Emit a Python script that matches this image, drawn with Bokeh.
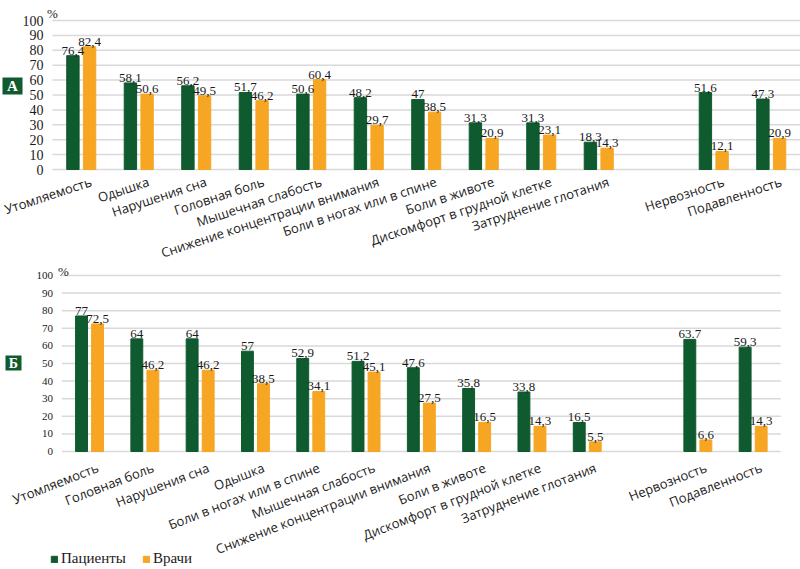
from bokeh.plotting import figure
from bokeh.models import Range1d, Legend, LegendItem, ColumnDataSource
from bokeh.layouts import column
from bokeh.core.properties import value
from bokeh.embed import file_html
from bokeh.resources import INLINE

GREEN = "#0f5a2e"
ORANGE = "#f6a623"
GRID = "#d9d9d9"
INK = "#1a1a1a"
SERIF = "Liberation Serif"
SANS = "Open Sans"

# ---- Panel A data ----
cats_a = ["Утомляемость", "Одышка", "Нарушения сна", "Головная боль", "Мышечная слабость",
          "Снижение концентрации внимания", "Боли в ногах или в спине", "Боли в животе",
          "Дискомфорт в грудной клетке", "Затруднение глотания", "Нервозность", "Подавленность"]
pat_a = [76.4, 58.1, 56.2, 51.7, 50.6, 48.2, 47, 31.3, 31.3, 18.3, 51.6, 47.3]
doc_a = [82.4, 50.6, 49.5, 46.2, 60.4, 29.7, 38.5, 20.9, 23.1, 14.3, 12.1, 20.9]
pat_a_lbl = ["76,4", "58,1", "56,2", "51,7", "50,6", "48,2", "47", "31,3", "31,3", "18,3", "51,6", "47,3"]
doc_a_lbl = ["82,4", "50,6", "49,5", "46,2", "60,4", "29,7", "38,5", "20,9", "23,1", "14,3", "12,1", "20,9"]

# ---- Panel B data ----
cats_b = ["Утомляемость", "Головная боль", "Нарушения сна", "Одышка", "Боли в ногах или в спине",
          "Мышечная слабость", "Снижение концентрации внимания", "Боли в животе",
          "Дискомфорт в грудной клетке", "Затруднение глотания", "Нервозность", "Подавленность"]
pat_b = [77, 64, 64, 57, 52.9, 51.2, 47.6, 35.8, 33.8, 16.5, 63.7, 59.3]
doc_b = [72.5, 46.2, 46.2, 38.5, 34.1, 45.1, 27.5, 16.5, 14.3, 5.5, 6.6, 14.3]
pat_b_lbl = ["77", "64", "64", "57", "52,9", "51,2", "47,6", "35,8", "33,8", "16,5", "63.7", "59,3"]
doc_b_lbl = ["72,5", "46,2", "46,2", "38,5", "34,1", "45,1", "27,5", "16,5", "14,3", "5,5", "6,6", "14,3"]

y_ticks = [0, 10, 20, 30, 40, 50, 60, 70, 80, 90, 100]
y_tick_labels = ["0", "10", "20", "30", "40", "50", "60", "70", "80", "90", "100"]
series_names = ["Пациенты", "Врачи"]
GAP_AFTER = 10  # empty slot between the two groups of categories

W = 800


def panel(cats, pat, doc, pat_lbl, doc_lbl, letter, height, left_px, slot_px, top_px, zero_px,
          tick_fs, box, pct, lab, legend=None):
    ppu = (zero_px - top_px) / 100.0
    n_slots = len(cats) + 1
    pos = [i + 0.5 + (1 if i >= GAP_AFTER else 0) for i in range(len(cats))]
    off, bw = 0.145, 0.215
    lab_dx, lab_dy, lab_angle = lab
    src = ColumnDataSource(dict(
        cat=cats, pat=pat, doc=doc, pat_lbl=pat_lbl, doc_lbl=doc_lbl,
        xg=[x - off for x in pos], xo=[x + off for x in pos],
        xl=[x + lab_dx / slot_px for x in pos]))
    p = figure(width=W, height=height, output_backend="svg", toolbar_location=None,
               x_range=Range1d(-left_px / slot_px, (W - left_px) / slot_px),
               y_range=Range1d(-(height - zero_px) / ppu, 100 + top_px / ppu),
               x_axis_location=None, y_axis_location=None,
               min_border_left=0, min_border_right=0, min_border_top=0, min_border_bottom=0)
    p.outline_line_color = None
    p.grid.visible = False

    # horizontal grid + baseline
    p.segment(x0=0, x1=n_slots, y0=y_ticks, y1=y_ticks, line_color=GRID, line_width=1.5)
    # y tick labels
    p.text(x=-9.0 / slot_px, y=y_ticks, text=y_tick_labels, text_align="right",
           text_baseline="middle", text_font=value(SERIF), text_font_size=tick_fs,
           text_color=INK)

    rg = p.vbar(x="xg", top="pat", width=bw, source=src, fill_color=GREEN, line_color=GREEN)
    ro = p.vbar(x="xo", top="doc", width=bw, source=src, fill_color=ORANGE, line_color=ORANGE)
    for xc, col, lbl in (("xg", "pat", "pat_lbl"), ("xo", "doc", "doc_lbl")):
        p.text(x=xc, y=col, text=lbl, source=src, text_align="center", text_baseline="bottom",
               y_offset=-1, text_font=value(SERIF), text_font_size="13px", text_color=INK)

    # rotated category labels
    p.text(x="xl", y=-lab_dy / ppu, text="cat", source=src, angle=lab_angle, text_align="right",
           text_baseline="top", text_font=value(SANS), text_font_size="13px", text_color=INK)

    # "%" unit
    px, py, pbase = pct
    p.text(x=[(px - left_px) / slot_px], y=[100 + (top_px - py) / ppu], text=["%"],
           text_align="center", text_baseline=pbase, text_font=value(SERIF),
           text_font_size="13px", text_color=INK)

    # panel letter box
    bx, by, bwid, bhei, bfs = box
    xb = [(bx - left_px) / slot_px]
    yb = [100 - (by - top_px) / ppu]
    p.rect(x=xb, y=yb, width=bwid, height=bhei, width_units="screen", height_units="screen",
           fill_color=GREEN, line_color=None)
    p.text(x=xb, y=yb, text=[letter], text_align="center", text_baseline="middle",
           text_font=value(SERIF), text_font_style="bold", text_font_size=bfs,
           text_color="white")

    if legend is not None:
        leg = Legend(items=[LegendItem(label=series_names[0], renderers=[rg]),
                            LegendItem(label=series_names[1], renderers=[ro])],
                     orientation="horizontal", location=legend, padding=0, margin=0,
                     spacing=16, glyph_width=8, glyph_height=8, label_height=14,
                     label_standoff=3, label_text_font=SERIF, label_text_font_size="15px",
                     label_text_color=INK, border_line_color=None, background_fill_alpha=0)
        p.add_layout(leg)
    return p


# Panel A: figure spans page y 0..262
pA = panel(cats_a, pat_a, doc_a, pat_a_lbl, doc_a_lbl, "А", 262,
           left_px=52, slot_px=57.5, top_px=20, zero_px=169, tick_fs="14px",
           box=(12, 85.5, 20, 17, "15px"), pct=(52, 13, "alphabetic"),
           lab=(7.0, 3.0, 0.32))
# Panel B: figure spans page y 262..569
pB = panel(cats_b, pat_b, doc_b, pat_b_lbl, doc_b_lbl, "Б", 307,
           left_px=61.4, slot_px=55.3, top_px=13, zero_px=189, tick_fs="11px",
           box=(13, 100.5, 16, 15, "14px"), pct=(63, 9, "alphabetic"),
           lab=(5.0, 7.0, 0.37), legend=(50, 2))

layout = column(pA, pB)
open("out.html", "w").write(file_html(layout, INLINE))
